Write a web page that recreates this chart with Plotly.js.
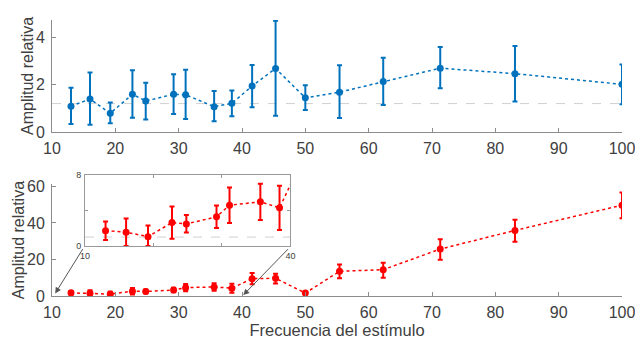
<!DOCTYPE html>
<html>
<head>
<meta charset="utf-8">
<script src="https://cdn.plot.ly/plotly-3.0.1.min.js"></script>
<style>html,body{margin:0;padding:0;background:#fff}#chart{width:635px;height:340px}</style>
</head>
<body>
<div id="chart"></div>
<script>
// Stimulus frequencies
var freq = [13.0, 16.0, 19.2, 22.7, 24.8, 29.2, 31.1, 35.6, 38.4, 41.6, 45.3, 50.0, 55.4, 62.3, 71.3, 83.1, 100];
// Top panel: relative amplitude (mean, upper, lower)
var topY  = [1.09, 1.39, 0.79, 1.59, 1.31, 1.59, 1.57, 1.07, 1.21, 1.94, 2.68, 1.44, 1.68, 2.13, 2.69, 2.46, 2.01];
var topHi = [1.87, 2.51, 1.25, 2.60, 2.08, 2.44, 2.62, 1.73, 1.75, 2.82, 4.69, 1.97, 2.81, 3.13, 3.58, 3.63, 2.85];
var topLo = [0.34, 0.31, 0.37, 0.60, 0.53, 0.76, 0.55, 0.46, 0.67, 1.04, 0.69, 0.93, 0.59, 1.14, 1.84, 1.29, 1.17];
// Bottom panel: relative amplitude (mean, upper, lower)
var botY  = [1.72, 1.54, 1.05, 2.63, 2.48, 3.27, 4.58, 4.96, 4.28, 9.5, 9.7, 1.6, 13.5, 14.4, 25.7, 35.9, 49.7];
var botHi = [2.74, 3.08, 2.29, 4.43, 3.49, 4.54, 6.57, 6.99, 6.76, 12.6, 12.2, 2.4, 17.3, 18.2, 31.1, 41.7, 56.7];
var botLo = [0.68, 0.0, 0.0, 0.82, 1.50, 2.03, 2.59, 2.93, 1.80, 6.4, 6.8, 0.9, 9.7, 10.0, 19.9, 29.7, 42.6];
// Reference (baseline) levels
var refX = [10, 100];
var refTop = [1.2, 1.2];
var refInsetX = [10, 40];
var refInset = [1.0, 1.0];
// Tick labels
var xTicks = [10, 20, 30, 40, 50, 60, 70, 80, 90, 100];
var topYTicks = [0, 2, 4];
var botYTicks = [0, 20, 40, 60];
var insetXTicks = [10, 20, 30, 40];
var insetXText = ['10', '', '', '40'];
var insetYTicks = [0, 4, 8];
var insetYText = ['0', '', '8'];
var yTitle = 'Amplitud relativa';
var xTitle = 'Frecuencia del estímulo';

function diff(a, b) { return a.map(function (v, i) { return Math.max(0, v - b[i]); }); }

var blue = '#0072BD', red = '#FF0000';
var txt = '#404040', axc = '#8c8c8c';
var fam = 'Liberation Sans, Arial, sans-serif';

var traces = [
  {x: refX, y: refTop, xaxis: 'x', yaxis: 'y', mode: 'lines', line: {color: '#d0d0d0', width: 1, dash: 'dash'}, hoverinfo: 'skip'},
  {x: freq, y: topY, xaxis: 'x', yaxis: 'y', mode: 'lines+markers',
   line: {color: blue, width: 1.5, dash: 'dot'}, marker: {color: blue, size: 7},
   error_y: {type: 'data', symmetric: false, array: diff(topHi, topY), arrayminus: diff(topY, topLo), color: blue, thickness: 2, width: 2.5}},
  {x: freq, y: botY, xaxis: 'x2', yaxis: 'y2', mode: 'lines+markers',
   line: {color: red, width: 1.5, dash: 'dot'}, marker: {color: red, size: 7},
   error_y: {type: 'data', symmetric: false, array: diff(botHi, botY), arrayminus: diff(botY, botLo), color: red, thickness: 2, width: 2.5}},
  {x: refInsetX, y: refInset, xaxis: 'x3', yaxis: 'y3', mode: 'lines', line: {color: '#d0d0d0', width: 1, dash: 'dash'}, hoverinfo: 'skip'},
  {x: freq, y: botY, xaxis: 'x3', yaxis: 'y3', mode: 'lines+markers',
   line: {color: red, width: 1.5, dash: 'dot'}, marker: {color: red, size: 7},
   error_y: {type: 'data', symmetric: false, array: diff(botHi, botY), arrayminus: diff(botY, botLo), color: red, thickness: 2, width: 2.5}}
];

var baseX = {range: [10, 100], tickvals: xTicks, ticks: 'inside', ticklen: 4, tickcolor: axc,
  showline: true, linecolor: axc, linewidth: 1, showgrid: false, zeroline: false,
  tickfont: {size: 16, color: txt, family: fam}, ticklabelstandoff: 2, ticklabeloverflow: 'allow'};
var baseY = {ticks: 'inside', ticklen: 4, tickcolor: axc, showline: true, linecolor: axc, linewidth: 1,
  showgrid: false, zeroline: false, tickfont: {size: 16, color: txt, family: fam}, ticklabelstandoff: 3};

var layout = {
  width: 635, height: 340,
  margin: {l: 52, r: 13, t: 20, b: 44},
  paper_bgcolor: '#fff', plot_bgcolor: 'rgba(0,0,0,0)',
  showlegend: false,
  font: {family: fam, color: txt},
  xaxis: Object.assign({}, baseX, {anchor: 'y'}),
  yaxis: Object.assign({}, baseY, {domain: [0.594, 1], range: [0, 4.72], tickvals: topYTicks}),
  xaxis2: Object.assign({}, baseX, {anchor: 'y2',
    title: {text: xTitle, font: {size: 16.5, color: txt}, standoff: 4}}),
  yaxis2: Object.assign({}, baseY, {domain: [0, 0.4058], range: [0, 61.3], tickvals: botYTicks}),
  xaxis3: {anchor: 'y3', domain: [0.0579, 0.4184], range: [10, 40], tickvals: insetXTicks, ticktext: insetXText,
    ticks: 'inside', ticklen: 3, tickcolor: '#999', showline: true, mirror: 'ticks', linecolor: '#999', linewidth: 1,
    showgrid: false, zeroline: false, tickfont: {size: 9, color: txt}, ticklabelstandoff: 1},
  yaxis3: {anchor: 'x3', domain: [0.1812, 0.4395], range: [0, 8], tickvals: insetYTicks, ticktext: insetYText,
    ticks: 'inside', ticklen: 3, tickcolor: '#999', showline: true, mirror: 'ticks', linecolor: '#999', linewidth: 1,
    showgrid: false, zeroline: false, tickfont: {size: 9, color: txt}, ticklabelstandoff: 1},
  shapes: [
    {type: 'rect', xref: 'x3 domain', yref: 'y3 domain', x0: 0, x1: 1, y0: 0, y1: 1, fillcolor: '#fff', line: {width: 0}, layer: 'below'}
  ],
  annotations: [
    {xref: 'paper', yref: 'y domain', x: -0.0439, y: 0.5, text: yTitle, textangle: -90, showarrow: false,
     xanchor: 'center', yanchor: 'middle', font: {size: 16, color: txt, family: fam}},
    {xref: 'paper', yref: 'y2 domain', x: -0.0575, y: 0.5, text: yTitle, textangle: -90, showarrow: false,
     xanchor: 'center', yanchor: 'middle', font: {size: 16, color: txt, family: fam}},
    {xref: 'x2', yref: 'y2', x: 10.5, y: 1.4, axref: 'x2', ayref: 'y2', ax: 15.0, ay: 26.5, text: '', showarrow: true,
     arrowhead: 2, arrowsize: 1.2, arrowwidth: 1, arrowcolor: '#555'},
    {xref: 'x2', yref: 'y2', x: 40.2, y: 0.5, axref: 'x2', ayref: 'y2', ax: 47.5, ay: 26.5, text: '', showarrow: true,
     arrowhead: 2, arrowsize: 1.2, arrowwidth: 1, arrowcolor: '#555'}
  ]
};

Plotly.newPlot('chart', traces, layout, {staticPlot: true, displayModeBar: false});
</script>
</body>
</html>
